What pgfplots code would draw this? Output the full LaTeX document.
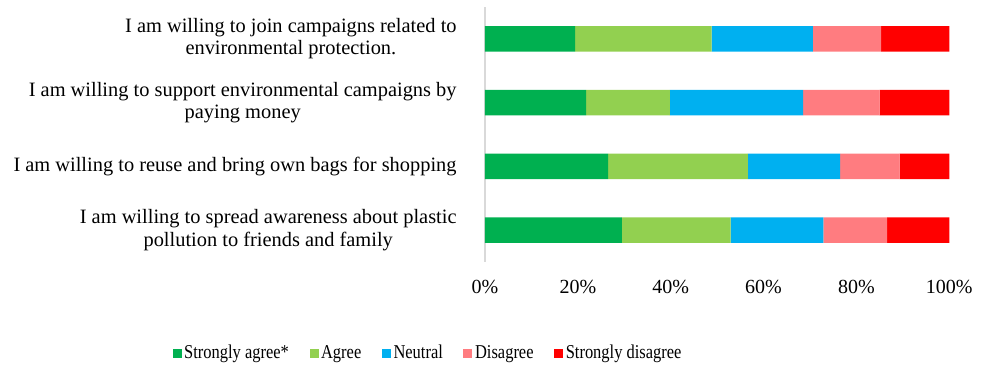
\documentclass[border=0pt]{standalone}
\usepackage{fontspec}
\setmainfont{Liberation Serif}
\newfontfamily\legfont[FakeStretch=0.84]{Liberation Serif}
\usepackage{pgfplots}
\pgfplotsset{compat=1.18}
\usepackage{pgfplotstable}
\definecolor{cSA}{HTML}{00B050}
\definecolor{cA}{HTML}{92D050}
\definecolor{cN}{HTML}{00B0F0}
\definecolor{cD}{HTML}{FF7C80}
\definecolor{cSD}{HTML}{FF0000}
\pgfplotstableread{
id SA A N D SD
0 19.4 29.4 21.8 14.7 14.7
1 21.8 18.0 28.7 16.5 15.0
2 26.5 30.1 19.9 12.8 10.7
3 29.5 23.4 20.0 13.7 13.4
}\data
\begin{document}
\begin{tikzpicture}
\useasboundingbox (-242.5pt,-53pt) rectangle (250.5pt,131pt);
\begin{axis}[
  at={(0,0)}, anchor=south west,
  scale only axis, width=232.15pt, height=127.5pt,
  xbar stacked, bar width=0.4,
  xmin=0, xmax=100, ymin=-0.5, ymax=3.5, y dir=reverse,
  axis lines*=left,
  x axis line style={draw=none},
  y axis line style={draw=black!15, line width=0.8pt},
  major tick length=0pt,
  xtick={0,20,40,60,80,100},
  xticklabel={\pgfmathprintnumber{\tick}\%},
  /pgf/number format/assume math mode=true,
  xticklabel style={font=\fontsize{10}{12}\selectfont, inner sep=0pt, yshift=-9pt},
  ytick={0,1,2,3},
  yticklabels={{I am willing to join campaigns related to\\environmental protection.},
               {I am willing to support environmental campaigns by\\paying money},
               {I am willing to reuse and bring own bags for shopping},
               {I am willing to spread awareness about plastic\\pollution to friends and family}},
  yticklabel style={font=\fontsize{10.2}{11.2}\selectfont, align=center, inner sep=0pt, xshift=-14pt},
  legend style={at={(-0.122,-0.357)}, anchor=center, draw=none, legend columns=5,
    font=\legfont\fontsize{9.8}{11}\selectfont,
    /tikz/every even column/.append style={column sep=9pt},
    nodes={inner sep=1.3pt}},
  legend image code/.code={\fill[#1] (0pt,-2.25pt) rectangle (4.5pt,2.25pt);},
  every axis plot/.append style={draw=none},
]
\addplot[fill=cSA] table[x=SA, y=id] {\data};
\addplot[fill=cA] table[x=A, y=id] {\data};
\addplot[fill=cN] table[x=N, y=id] {\data};
\addplot[fill=cD] table[x=D, y=id] {\data};
\addplot[fill=cSD] table[x=SD, y=id] {\data};
\legend{Strongly agree*, Agree, Neutral, Disagree, Strongly disagree}
\end{axis}
\end{tikzpicture}
\end{document}
